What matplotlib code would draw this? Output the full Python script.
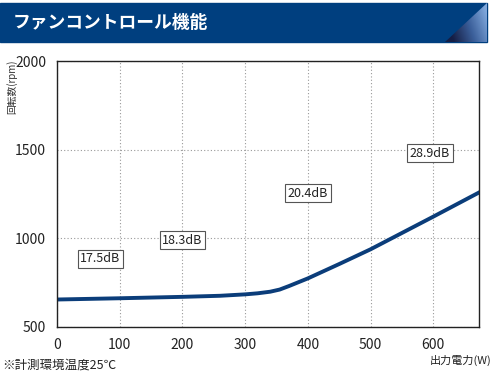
import matplotlib.pyplot as plt
import numpy as np
from matplotlib.patches import Rectangle, Polygon
from matplotlib.colors import LinearSegmentedColormap

plt.rcParams['font.family'] = ['Noto Sans CJK JP', 'DejaVu Sans']

# data
watts = [0, 100, 200, 260, 300, 320, 340, 355, 370, 400, 450, 500, 600, 675]
rpm = [655, 662, 670, 676, 684, 690, 699, 711, 731, 774, 855, 938, 1122, 1262]

noise_labels = ['17.5dB', '18.3dB', '20.4dB', '28.9dB']
noise_x = [69, 200, 400, 595]
noise_y = [885, 990, 1255, 1480]

xticks = [0, 100, 200, 300, 400, 500, 600]
yticks = [500, 1000, 1500, 2000]

fig = plt.figure(figsize=(5.01, 3.72), dpi=100)

# title bar
bar_col = '#003f7f'
fig.patches.append(Rectangle((0, 0.887), 0.973, 0.105, transform=fig.transFigure,
                             color=bar_col, zorder=-1))
# light corner at right
cax = fig.add_axes([0.888, 0.887, 0.085, 0.105])
cax.set_xlim(0, 1)
cax.set_ylim(0, 1)
cax.axis('off')
cmap = LinearSegmentedColormap.from_list('c', ['#151e45', '#3b5f9a', '#80a8dc'])
xx, yy = np.meshgrid(np.linspace(0, 1, 80), np.linspace(0, 1, 40))
img = cax.imshow(xx + 0.3 * yy, aspect='auto', cmap=cmap, extent=[0, 1, 0, 1],
                 origin='lower', vmin=0.2, vmax=1.2)
tri = Polygon([[0, 0], [1, 0], [1, 1]], transform=cax.transData, fc='none', ec='none')
cax.add_patch(tri)
img.set_clip_path(tri)

fig.text(0.026, 0.938, 'ファンコントロール機能', color='white', fontsize=12.8,
         fontweight='bold', va='center', ha='left')

ax = fig.add_axes([0.114, 0.121, 0.842, 0.715])
ax.plot(watts, rpm, color='#0b3d7a', lw=2.8, solid_capstyle='butt')
ax.set_xlim(0, 673)
ax.set_ylim(500, 2000)
ax.set_xticks(xticks)
ax.set_yticks(yticks)
ax.tick_params(length=0, labelsize=10, pad=8, colors='#222222')
ax.grid(True, color='#999999', ls=(0, (1, 2)), lw=0.8)
for s in ax.spines.values():
    s.set_linewidth(1.0)
    s.set_color('#222222')

for t, x, y in zip(noise_labels, noise_x, noise_y):
    ax.text(x, y, t, ha='center', va='center', fontsize=9, color='#222222',
            bbox=dict(boxstyle='square,pad=0.2', fc='white', ec='#555555', lw=0.8))

fig.text(0.012, 0.84, '回転数(rpm)', rotation=90, fontsize=7, va='top', ha='left',
         color='#333333')
fig.text(0.982, 0.032, '出力電力(W)', fontsize=8, ha='right', va='center',
         color='#222222')
fig.text(0.004, 0.018, '※計測環境温度25℃', fontsize=9, ha='left', va='center',
         color='#222222')

fig.savefig('out.png', dpi=100)
